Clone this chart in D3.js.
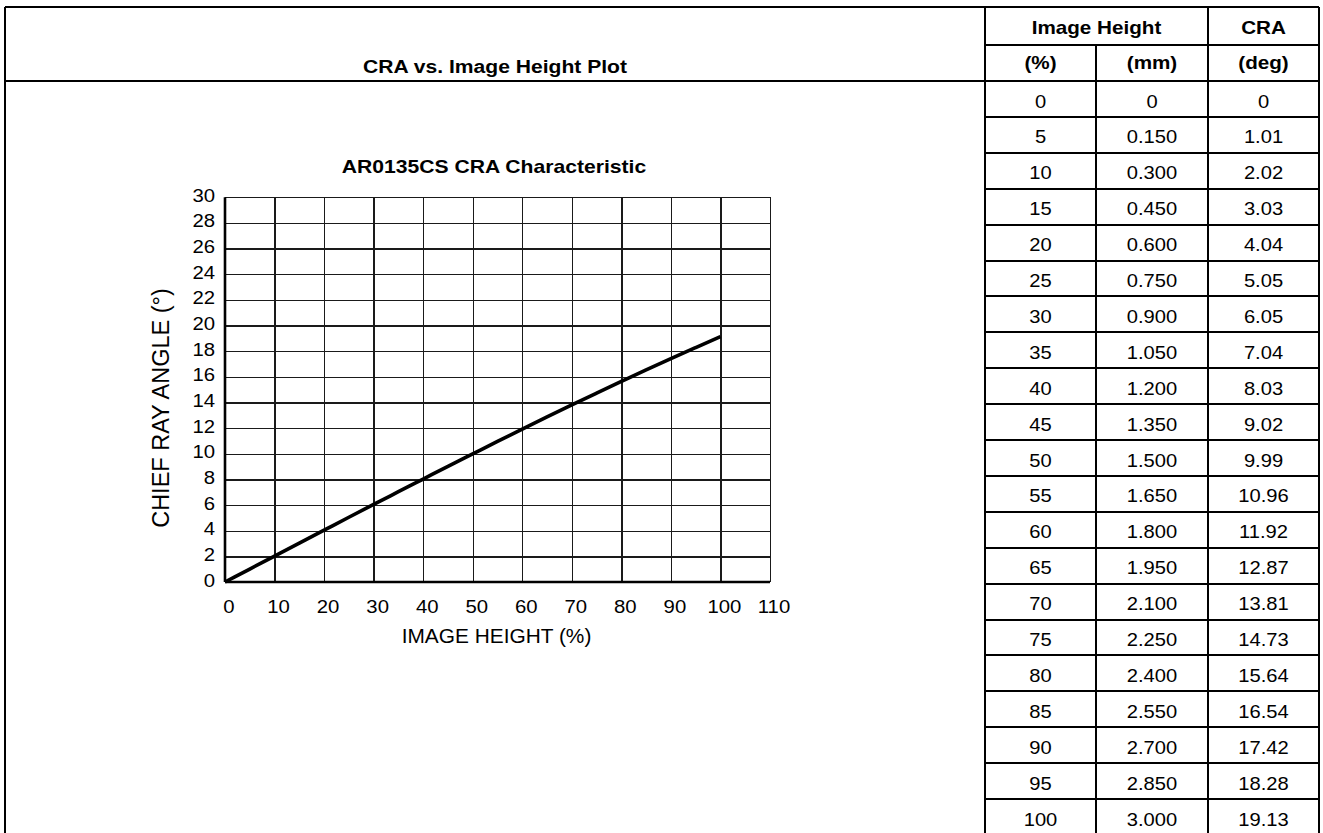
<!DOCTYPE html>
<html>
<head>
<meta charset="utf-8">
<script src="https://cdn.jsdelivr.net/npm/d3@7"></script>
<style>
  html, body { margin: 0; padding: 0; background: #fff; }
  svg { display: block; font-family: "Liberation Sans", Arial, Helvetica, sans-serif; }
</style>
</head>
<body>
<svg id="chart" width="1323" height="833"></svg>
<script>
// ---- data ----
const imageHeightPct = [0, 5, 10, 15, 20, 25, 30, 35, 40, 45, 50, 55, 60, 65, 70, 75, 80, 85, 90, 95, 100];
const imageHeightMm = ["0", "0.150", "0.300", "0.450", "0.600", "0.750", "0.900", "1.050", "1.200", "1.350", "1.500",
                       "1.650", "1.800", "1.950", "2.100", "2.250", "2.400", "2.550", "2.700", "2.850", "3.000"];
const craDeg = [0, 1.01, 2.02, 3.03, 4.04, 5.05, 6.05, 7.04, 8.03, 9.02, 9.99,
                10.96, 11.92, 12.87, 13.81, 14.73, 15.64, 16.54, 17.42, 18.28, 19.13];
const craLabels = ["0", "1.01", "2.02", "3.03", "4.04", "5.05", "6.05", "7.04", "8.03", "9.02", "9.99",
                   "10.96", "11.92", "12.87", "13.81", "14.73", "15.64", "16.54", "17.42", "18.28", "19.13"];
const xTicks = [0, 10, 20, 30, 40, 50, 60, 70, 80, 90, 100, 110];
const yTicks = [0, 2, 4, 6, 8, 10, 12, 14, 16, 18, 20, 22, 24, 26, 28, 30];
const pageTitle = "CRA vs. Image Height Plot";
const chartTitle = "AR0135CS CRA Characteristic";
const xTitle = "IMAGE HEIGHT (%)";
const yTitle = "CHIEF RAY ANGLE (°)";
const headRow1 = ["Image Height", "CRA"];
const headRow2 = ["(%)", "(mm)", "(deg)"];

// ---- layout ----
const svg = d3.select("#chart");
const F = { left: 5, top: 7, right: 1319, bottom: 836 };
const T = { left: 985, c1: 1096, c2: 1208, right: 1319, h1: 45, h2: 81, rowH: 35.9 };
const P = { left: 225, right: 770, top: 197.3, bottom: 582 };

function txt(g, x, y, s, o) {
  o = Object.assign({ fs: 18, sx: 1.12, weight: "normal", anchor: "middle", rot: 0 }, o || {});
  const t = g.append("text")
    .attr("transform", `translate(${x},${y}) scale(${o.sx},1)` + (o.rot ? ` rotate(${o.rot})` : ""))
    .attr("text-anchor", o.anchor)
    .attr("font-size", o.fs)
    .attr("font-weight", o.weight)
    .attr("fill", "#000")
    .text(s);
  return t;
}

// ---- scales ----
const x = d3.scaleLinear().domain([0, 110]).range([P.left, P.right]);
const y = d3.scaleLinear().domain([0, 30]).range([P.bottom, P.top]);

// ---- plot grid ----
const plot = svg.append("g");
const gx = plot.append("g")
  .attr("transform", `translate(0,${P.bottom})`)
  .call(d3.axisBottom(x).tickValues(xTicks).tickSize(-(P.bottom - P.top)).tickFormat(""));
const gy = plot.append("g")
  .attr("transform", `translate(${P.left},0)`)
  .call(d3.axisLeft(y).tickValues(yTicks).tickSize(-(P.right - P.left)).tickFormat(""));
[gx, gy].forEach(g => {
  g.select(".domain").remove();
  g.selectAll(".tick line").attr("stroke", "#1a1a1a").attr("stroke-width", 1.3).attr("shape-rendering", "crispEdges");
});

// axis lines (thick)
plot.append("line").attr("x1", P.left).attr("x2", P.right).attr("y1", y(0)).attr("y2", y(0))
  .attr("stroke", "#000").attr("stroke-width", 2.6);
plot.append("line").attr("x1", x(0)).attr("x2", x(0)).attr("y1", y(30)).attr("y2", y(0))
  .attr("stroke", "#000").attr("stroke-width", 2.6);

// tick labels
xTicks.forEach(v => txt(plot, x(v) + 4, 613, String(v), { fs: 18, sx: 1.13 }));
yTicks.forEach(v => txt(plot, 215, y(v) + 4.5, String(v), { fs: 18, sx: 1.13, anchor: "end" }));

// curve
const line = d3.line().x((d, i) => x(imageHeightPct[i])).y(d => y(d)).curve(d3.curveMonotoneX);
plot.append("path").datum(craDeg).attr("d", line)
  .attr("fill", "none").attr("stroke", "#000").attr("stroke-width", 3.6).attr("stroke-linecap", "butt");

// titles
txt(svg, 494, 172.5, chartTitle, { fs: 18.7, sx: 1.13, weight: "bold" });
txt(svg, 495, 73, pageTitle, { fs: 19, sx: 1.11, weight: "bold" });
txt(svg, 496.5, 643, xTitle, { fs: 19.5, sx: 1.07 });
txt(svg, 169, 408, yTitle, { fs: 23.5, sx: 1.0, rot: -90 });

// ---- frame & table lines ----
const lines = svg.append("g").attr("stroke", "#000").attr("stroke-width", 2).attr("shape-rendering", "crispEdges");
function L(x1, y1, x2, y2) { lines.append("line").attr("x1", x1).attr("y1", y1).attr("x2", x2).attr("y2", y2); }
L(F.left, F.top, F.right, F.top);
L(F.left, F.top, F.left, F.bottom);
L(F.right, F.top, F.right, F.bottom);
L(F.left, T.h2, T.right, T.h2);
L(T.left, F.top, T.left, F.bottom);
L(T.left, T.h1, T.right, T.h1);
L(T.c1, T.h1, T.c1, F.bottom);
L(T.c2, F.top, T.c2, F.bottom);
imageHeightPct.forEach((d, i) => {
  const yy = Math.round(T.h2 + (i + 1) * T.rowH);
  L(T.left, yy, T.right, yy);
});

// ---- table text ----
const tg = svg.append("g");
const cx0 = (T.left + T.c1) / 2, cx1 = (T.c1 + T.c2) / 2, cx2 = (T.c2 + T.right) / 2;
txt(tg, (T.left + T.c2) / 2, 34, headRow1[0], { fs: 17.5, sx: 1.18, weight: "bold" });
txt(tg, cx2, 34, headRow1[1], { fs: 17.5, sx: 1.18, weight: "bold" });
[cx0, cx1, cx2].forEach((cx, k) => txt(tg, cx, 69, headRow2[k], { fs: 17.5, sx: 1.18, weight: "bold" }));
imageHeightPct.forEach((p, i) => {
  const by = T.h2 + i * T.rowH + 26.5;
  txt(tg, cx0, by, String(p), { fs: 18, sx: 1.12 });
  txt(tg, cx1, by, imageHeightMm[i], { fs: 18, sx: 1.12 });
  txt(tg, cx2, by, craLabels[i], { fs: 18, sx: 1.12 });
});
</script>
</body>
</html>
